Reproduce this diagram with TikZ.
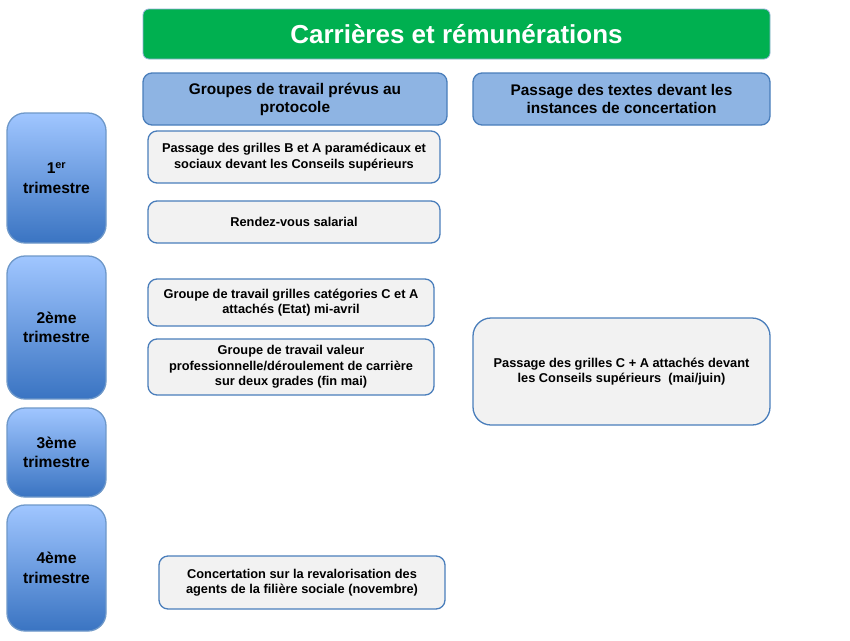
\documentclass[tikz,border=0pt]{standalone}
\usepackage{fontspec}
\setmainfont{Liberation Sans}
\definecolor{titlegreen}{HTML}{00B050}
\definecolor{headblue}{HTML}{8EB4E3}
\definecolor{edgeblue}{HTML}{4A7EBB}
\definecolor{boxgray}{HTML}{F2F2F2}
\definecolor{qtop}{HTML}{A0C6FF}
\definecolor{qbot}{HTML}{3A74C2}
\tikzset{
  base/.style={inner sep=0pt, align=center, font=\bfseries\fontsize{12.8}{15.5}\selectfont, line width=1.3pt, draw=edgeblue},
  titlebox/.style={base, fill=titlegreen, draw=edgeblue!60, line width=0.8pt, rounded corners=6pt, text=white, font=\bfseries\fontsize{26}{28}\selectfont},
  headbox/.style={base, fill=headblue, rounded corners=9pt, font=\bfseries\fontsize{15.4}{18}\selectfont},
  qbox/.style={base, top color=qtop, bottom color=qbot, draw=edgeblue!80, rounded corners=18pt, font=\bfseries\fontsize{15.6}{19.5}\selectfont},
  itembox/.style={base, fill=boxgray, rounded corners=9pt},
}
\begin{document}
\begin{tikzpicture}[x=1pt,y=-1pt]
\useasboundingbox[fill=white] (0,0) rectangle (850,640);
\node[titlebox, minimum width=627pt, minimum height=50pt] (title) at (456.5,34) {Carrières et rémunérations};
\node[headbox, minimum width=304pt, minimum height=52pt] (h1) at (295,99) {Groupes de travail prévus au\\protocole};
\node[headbox, minimum width=297pt, minimum height=52pt] (h2) at (621.5,99) {Passage des textes devant les\\instances de concertation};
\node[qbox, minimum width=99pt, minimum height=130pt] (q1) at (56.5,178) {1\textsuperscript{er}\\trimestre};
\node[qbox, minimum width=99pt, minimum height=143pt] (q2) at (56.5,327.5) {2ème\\trimestre};
\node[qbox, minimum width=99pt, minimum height=89pt] (q3) at (56.5,452.5) {3ème\\trimestre};
\node[qbox, minimum width=99pt, minimum height=126pt] (q4) at (56.5,568) {4ème\\trimestre};
\node[itembox, minimum width=292pt, minimum height=52pt] (b1) at (294,157) {Passage des grilles B et A paramédicaux et\\sociaux devant les Conseils supérieurs};
\node[itembox, minimum width=292pt, minimum height=42pt] (b2) at (294,222) {Rendez-vous salarial};
\node[itembox, minimum width=286pt, minimum height=47pt] (b3) at (291,302.5) {Groupe de travail grilles catégories C et A\\attachés (Etat) mi-avril};
\node[itembox, minimum width=286pt, minimum height=56pt] (b4) at (291,367) {Groupe de travail valeur\\professionnelle/déroulement de carrière\\sur deux grades (fin mai)};
\node[itembox, rounded corners=18pt, minimum width=297pt, minimum height=107pt] (r1) at (621.5,371.5) {Passage des grilles C + A attachés devant\\les Conseils supérieurs~~(mai/juin)};
\node[itembox, minimum width=286pt, minimum height=53pt] (b5) at (302,582.5) {Concertation sur la revalorisation des\\agents de la filière sociale (novembre)};
\end{tikzpicture}
\end{document}
